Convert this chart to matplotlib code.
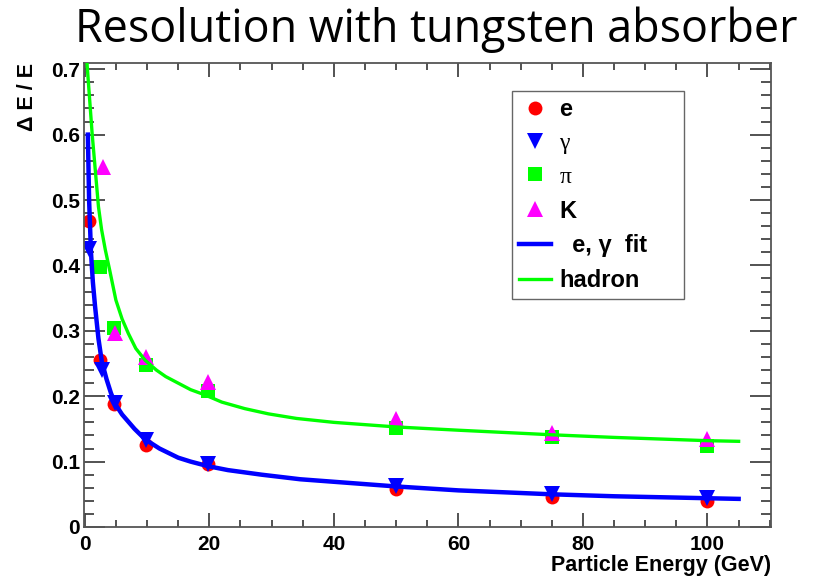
import matplotlib
matplotlib.use('Agg')
import matplotlib.pyplot as plt
from matplotlib.ticker import MultipleLocator

# measured points (energy in GeV, relative resolution)
e_energy = [0.7, 2.5, 4.7, 9.8, 19.8, 50, 75, 100]
e_res = [0.468, 0.256, 0.188, 0.126, 0.096, 0.058, 0.046, 0.039]

gamma_energy = [0.7, 2.7, 4.8, 9.8, 19.8, 50, 75, 100]
gamma_res = [0.425, 0.240, 0.190, 0.133, 0.097, 0.062, 0.051, 0.045]

pi_energy = [2.5, 4.7, 9.8, 19.8, 50, 75, 100]
pi_res = [0.398, 0.305, 0.247, 0.208, 0.152, 0.137, 0.124]

k_energy = [3.0, 4.8, 9.8, 19.8, 50, 75, 100]
k_res = [0.550, 0.297, 0.260, 0.222, 0.165, 0.143, 0.134]

# fit curves
fit_e_energy = [0.5, 0.7, 1.0, 1.3, 1.66, 2.2, 2.74, 3.5, 4.2, 4.9, 6.0, 8.0, 9.7, 12, 15, 17,
                19.8, 23, 28.4, 34.6, 40.2, 50, 60, 75, 85, 100, 105]
fit_e_res = [0.600, 0.500, 0.420, 0.375, 0.337, 0.288, 0.253, 0.226, 0.205, 0.188, 0.172, 0.150,
             0.134, 0.120, 0.106, 0.100, 0.093, 0.087, 0.080, 0.073, 0.069, 0.062, 0.056,
             0.050, 0.047, 0.044, 0.043]

fit_h_energy = [0.2, 1.2, 2.2, 2.7, 3.3, 4.0, 5.0, 6.0, 7.0, 8.2, 9.7, 11.5, 13, 15, 17,
                19.3, 22, 25.7, 29.5, 34, 40, 50, 60, 75, 85, 100, 105]
fit_h_res = [0.730, 0.600, 0.490, 0.455, 0.424, 0.393, 0.347, 0.318, 0.296, 0.273, 0.255,
             0.240, 0.230, 0.220, 0.210, 0.202, 0.191, 0.181, 0.173, 0.166, 0.160, 0.153,
             0.148, 0.141, 0.137, 0.132, 0.131]

xtick_pos = [0, 20, 40, 60, 80, 100]
xtick_labels = ['0', '20', '40', '60', '80', '100']
ytick_pos = [0, 0.1, 0.2, 0.3, 0.4, 0.5, 0.6, 0.7]
ytick_labels = ['0', '0.1', '0.2', '0.3', '0.4', '0.5', '0.6', '0.7']

plt.rcParams['font.family'] = ['Liberation Sans', 'DejaVu Sans']
plt.rcParams['font.weight'] = 'bold'
plt.rcParams['axes.labelweight'] = 'bold'

fig = plt.figure(figsize=(8.23, 5.77), dpi=100)
ax = fig.add_axes([83.5/823, 50/577, 687.5/823, 464/577])

ax.plot(e_energy, e_res, 'o', color='#ff0000', ms=10, mew=0, label='e', zorder=2)
ax.plot(gamma_energy, gamma_res, 'v', color='#0000ff', ms=11, mew=0, label='γ', zorder=2)
ax.plot(pi_energy, pi_res, 's', color='#00ff00', ms=9.5, mew=0, label='π', zorder=2)
ax.plot(k_energy, k_res, '^', color='#ff00ff', ms=11, mew=0, label='K', zorder=2)
ax.plot(fit_e_energy, fit_e_res, '-', color='#0000ff', lw=3.2, label='  e, γ  fit', zorder=3)
ax.plot(fit_h_energy, fit_h_res, '-', color='#00ff00', lw=2.4, label='hadron', zorder=3)

ax.set_xlim(-0.2, 110.2)
ax.set_ylim(0, 0.7095)
ax.set_xticks(xtick_pos)
ax.set_xticklabels(xtick_labels)
ax.set_yticks(ytick_pos)
ax.set_yticklabels(ytick_labels)
ax.xaxis.set_minor_locator(MultipleLocator(5))
ax.yaxis.set_minor_locator(MultipleLocator(0.02))

ax.tick_params(which='both', direction='in', top=True, right=True, colors='#444444',
               labelcolor='black', labelsize=15, width=1.3)
ax.tick_params(axis='y', which='major', length=15, pad=2.5)
ax.tick_params(axis='y', which='minor', length=7)
ax.tick_params(axis='x', which='major', length=10, pad=6)
ax.tick_params(axis='x', which='minor', length=5)
for s in ax.spines.values():
    s.set_color('#555555')
    s.set_linewidth(1.3)

ax.set_xlabel('Particle Energy (GeV)', fontsize=15.5, fontweight='bold', loc='right')
ax.xaxis.set_label_coords(1.0, -0.060)
ax.set_ylabel('Δ E / E', fontsize=15.5, fontweight='bold', loc='top')
ax.yaxis.set_label_coords(-0.066, 1.0)

leg = ax.legend(loc='upper left', bbox_to_anchor=(512/823, 282/577, 172/823, 204/577),
                bbox_transform=fig.transFigure, mode='expand', fontsize=17, frameon=True,
                fancybox=False, edgecolor='#666666', framealpha=1,
                handlelength=1.35, handletextpad=0.35, labelspacing=0.5,
                borderpad=0.3, borderaxespad=0)
leg.get_frame().set_linewidth(1.0)
for t in leg.get_texts():
    if t.get_text() in ('γ', 'π'):
        t.set_fontfamily('Liberation Serif')
        t.set_fontweight('normal')

fig.text(436/823, 535/577, 'Resolution with tungsten absorber', ha='center', va='baseline',
         fontsize=32.3, family='Open Sans', fontweight='normal')

fig.savefig('out.png', dpi=100)
